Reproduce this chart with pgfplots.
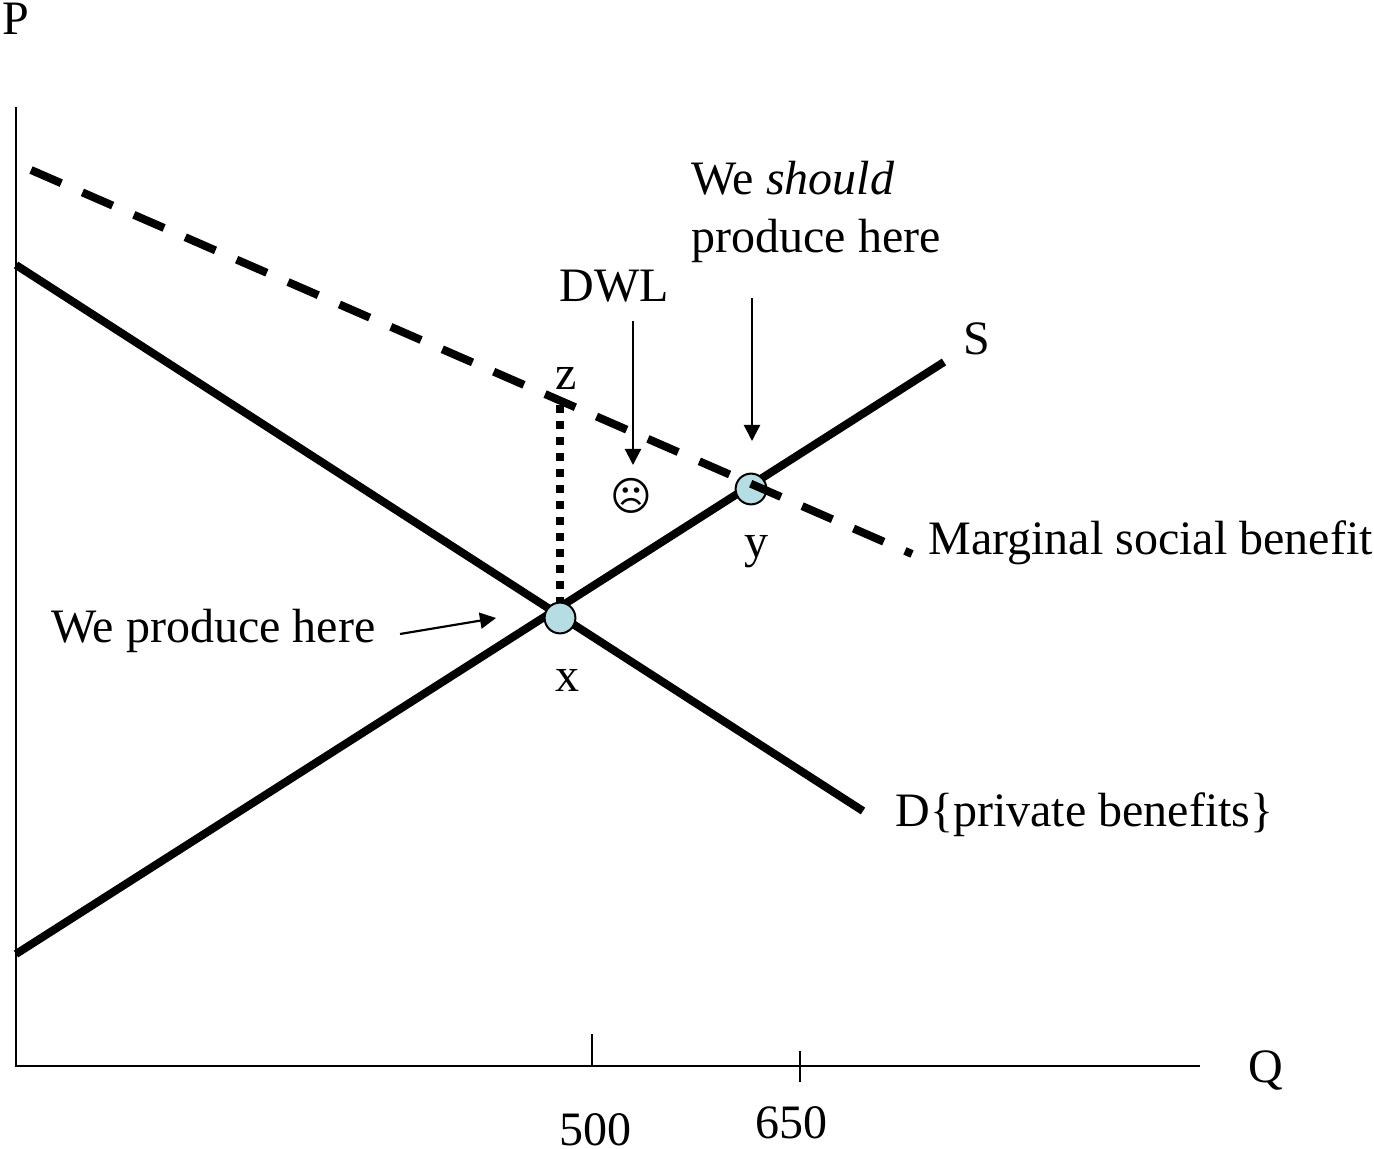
\documentclass[border=0pt]{standalone}
\usepackage{pgfplots}
\pgfplotsset{compat=1.18}
\usepackage{fontspec}
\setmainfont{Liberation Serif}
\newfontfamily\symfont{DejaVu Sans}
\usetikzlibrary{arrows.meta}
\definecolor{ptblue}{HTML}{B7DDE4}
\tikzset{
  lab/.style={font=\fontsize{24}{28}\selectfont, inner sep=0pt, anchor=base west},
  ar/.style={black, line width=1.1pt, -{Stealth[length=8pt,width=8pt,inset=0pt]}}
}
\begin{document}
\begin{tikzpicture}
\begin{axis}[
  scale only axis, width=687pt, height=574.5pt,
  xmin=0, xmax=1374, ymin=0, ymax=1149, y dir=reverse,
  hide axis, clip=false, clip marker paths=true
]
\coordinate (tl) at (axis cs:0,0);
\coordinate (br) at (axis cs:1374,1149);
% axes
\addplot[black, line width=1.2pt] coordinates {(16,107) (16,1066) (1200,1066)};
% ticks
\addplot[black, line width=1.2pt] coordinates {(592,1034) (592,1066)};
\addplot[black, line width=1.2pt] coordinates {(800,1051) (800,1082)};
% demand and supply
\addplot[black, line width=4pt] coordinates {(16,265) (863,811)};
\addplot[black, line width=4pt] coordinates {(16,954) (944,362)};
% point y lies under the MSB line
\addplot[only marks, mark=*, mark size=7.7pt, mark options={fill=ptblue, draw=black, line width=1pt}] coordinates {(751,489)};
% MSB
\addplot[black, line width=4pt, dash pattern=on 16.5pt off 11.54pt] coordinates {(31,170) (912,554)};
% dotted
\addplot[black, line width=4pt, dash pattern=on 4pt off 4pt] coordinates {(560,405) (560,610)};
% arrows
\addplot[ar] coordinates {(633,321) (633,465)};
\addplot[ar] coordinates {(752,298) (752,441)};
\addplot[ar] coordinates {(400,634) (496,618)};
\addplot[only marks, mark=*, mark size=7.7pt, mark options={fill=ptblue, draw=black, line width=1pt}] coordinates {(560,618)};
% text
\node[lab] at (axis cs:2,35) {P};
\node[lab] at (axis cs:1248,1082) {Q};
\node[lab] at (axis cs:963,355) {S};
\node[lab] at (axis cs:691,195) {We \textit{should}};
\node[lab] at (axis cs:691,253) {produce here};
\node[lab] at (axis cs:559,302) {DWL};
\node[lab] at (axis cs:555,390) {z};
\node[lab] at (axis cs:744,557) {y};
\node[lab] at (axis cs:555,691) {x};
\node[lab] at (axis cs:928,554) {Marginal social benefit};
\node[lab] at (axis cs:51,642) {We produce here};
\node[lab] at (axis cs:895,826) {D\{private benefits\}};
\node[lab] at (axis cs:559,1145) {500};
\node[lab] at (axis cs:755,1138) {650};
\node[inner sep=0pt, font=\symfont\fontsize{20}{24}\selectfont] at (axis cs:631,496) {☹};
\end{axis}
\pgfresetboundingbox
\path[use as bounding box] (tl) rectangle (br);
\end{tikzpicture}
\end{document}
